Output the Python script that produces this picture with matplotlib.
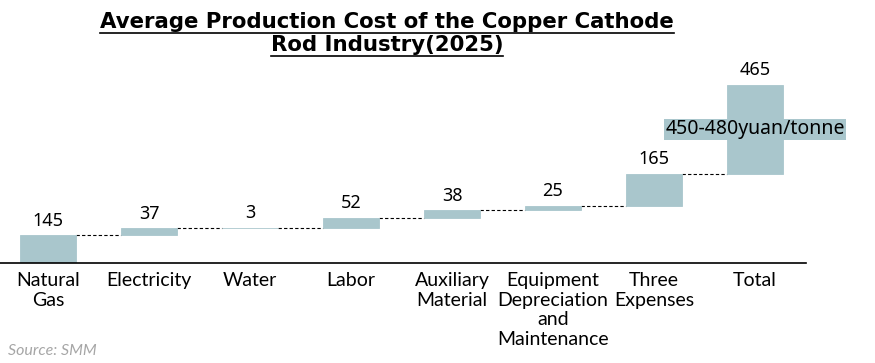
import matplotlib.pyplot as plt
from matplotlib.lines import Line2D
import numpy as np

# Data
categories = ["Natural\nGas", "Electricity", "Water", "Labor", "Auxiliary\nMaterial",
              "Equipment\nDepreciation\nand\nMaintenance", "Three\nExpenses", "Total"]
values = [145, 37, 3, 52, 38, 25, 165, 465]
range_note = "450-480yuan/tonne"
title_lines = ["Average Production Cost of the Copper Cathode", "Rod Industry(2025)"]
source = "Source: SMM"

bar_color = "#A9C6CC"
label_font = ["Lato", "DejaVu Sans"]
num_font = ["Noto Sans", "DejaVu Sans"]

# waterfall: each bar starts where the previous ones end
bottoms = np.concatenate([[0], np.cumsum(values)[:-1]])
tops = bottoms + np.array(values)
x = np.arange(len(values))
w = 0.555

fig = plt.figure(figsize=(8.75, 3.63), dpi=100)
ax = fig.add_axes([0, 1 - 263 / 363, 806 / 875, 203 / 363])

ax.bar(x, values, bottom=bottoms, width=w, color=bar_color,
       edgecolor=bar_color, linewidth=0.6, zorder=2)

# dashed connectors between bars
for i in range(len(values) - 1):
    ax.hlines(tops[i], x[i] + w / 2, x[i + 1] - w / 2, colors="black",
              linestyles=(0, (3, 2)), linewidth=0.8, zorder=1)

# value labels
for xi, top, v in zip(x, tops, values):
    ax.annotate(str(v), (xi, top), xytext=(0, 4), textcoords="offset points",
                ha="center", va="bottom", fontsize=13, family=num_font)

# range note on the total bar
ax.text(x[-1], bottoms[-1] + values[-1] / 2, range_note, ha="center", va="center",
        fontsize=14, family=num_font,
        bbox=dict(facecolor=bar_color, edgecolor="none", pad=0.5), zorder=3)

ax.set_xlim(-0.475, 7.505)
ax.set_ylim(0, 1060)
ax.set_xticks(x)
ax.set_xticklabels(categories, fontsize=14, family=label_font, linespacing=1.18)
ax.tick_params(axis="x", length=0, pad=6.5)
ax.set_yticks([])
for s in ["top", "right", "left"]:
    ax.spines[s].set_visible(False)
ax.spines["bottom"].set_linewidth(1.2)

# title, underlined
H = 363
t1 = fig.text(387 / 875, 1 - 28 / H, title_lines[0], ha="center", va="baseline",
              fontsize=15.3, fontweight="bold", family="DejaVu Sans")
t2 = fig.text(387 / 875, 1 - 51 / H, title_lines[1], ha="center", va="baseline",
              fontsize=15.3, fontweight="bold", family="DejaVu Sans")
fig.canvas.draw()
r = fig.canvas.get_renderer()
for t, yb in ((t1, 28), (t2, 51)):
    bb = t.get_window_extent(r).transformed(fig.transFigure.inverted())
    yu = 1 - (yb + 4.5) / H
    fig.add_artist(Line2D([bb.x0, bb.x1], [yu, yu], color="black",
                          linewidth=1.2, transform=fig.transFigure))

fig.text(8 / 875, 1 - 351 / H, source, ha="left", va="center", fontsize=11.5,
         style="italic", color="#A6A6A6", family=label_font)

fig.savefig("out.png", dpi=100)
